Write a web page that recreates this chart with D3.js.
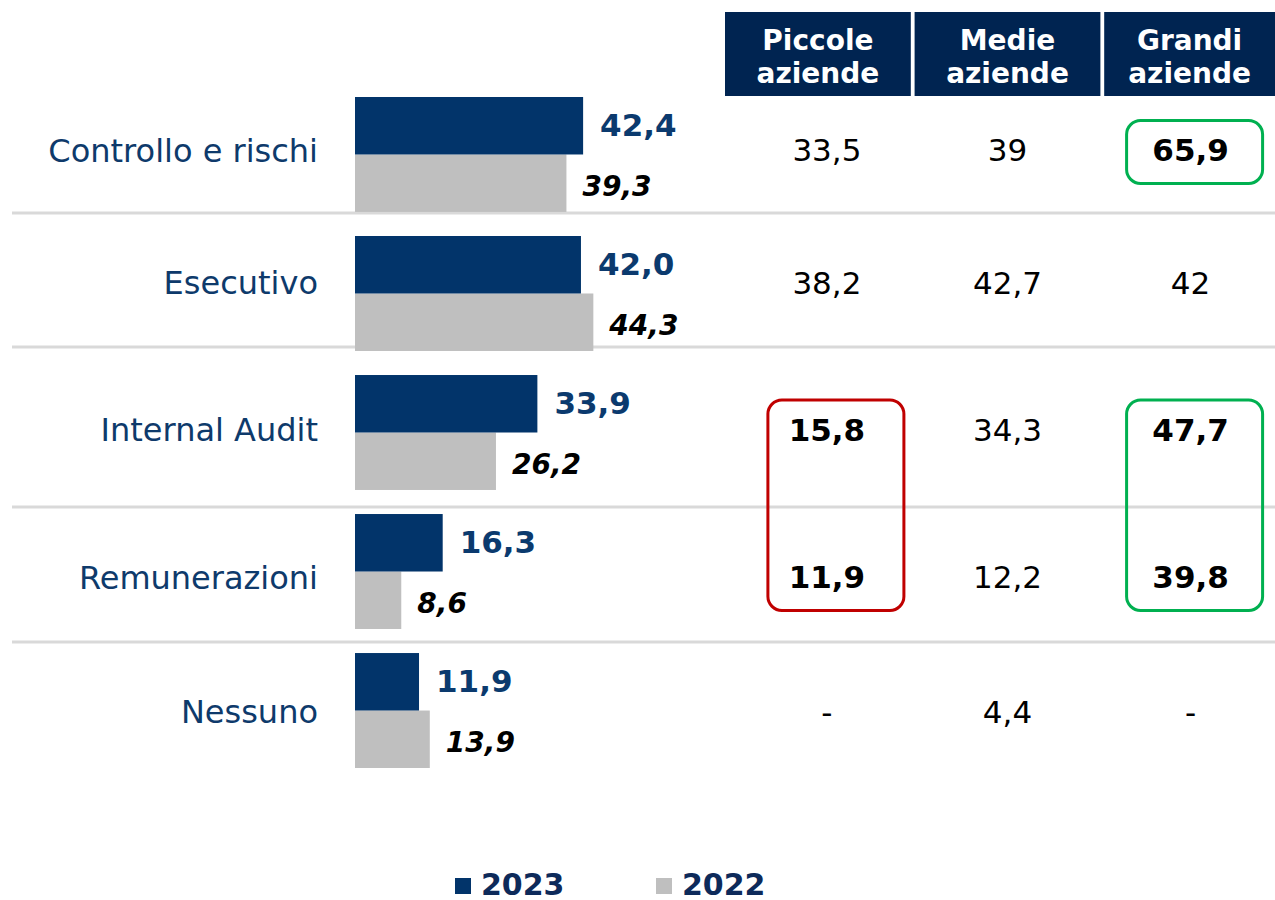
<!DOCTYPE html>
<html>
<head>
<meta charset="utf-8">
<title>Comitati</title>
<script src="https://d3js.org/d3.v7.min.js"></script>
<style>
  body { margin: 0; background: #fff; }
  svg text { font-family: "DejaVu Sans", Verdana, sans-serif; }
</style>
</head>
<body>
<div id="chart"></div>
<script>
// data
const categories = ["Controllo e rischi", "Esecutivo", "Internal Audit", "Remunerazioni", "Nessuno"];
const series = ["2023", "2022"];
const values2023 = [42.4, 42.0, 33.9, 16.3, 11.9];
const values2022 = [39.3, 44.3, 26.2, 8.6, 13.9];
const columns = ["Piccole aziende", "Medie aziende", "Grandi aziende"];
const piccole = ["33,5", "38,2", "15,8", "11,9", "-"];
const medie = ["39", "42,7", "34,3", "12,2", "4,4"];
const grandi = ["65,9", "42", "47,7", "39,8", "-"];
// highlighted cells: column index, first row, last row
const highlights = [
  {col: 2, from: 0, to: 0, kind: "good"},
  {col: 0, from: 2, to: 3, kind: "bad"},
  {col: 2, from: 2, to: 3, kind: "good"}
];

const width = 1275, height = 900;
const navy = "#02346a", headNavy = "#002451", gray = "#bfbfbf", labelNavy = "#0e3a6b";
const fmt = v => d3.format(".1f")(v).replace(".", ",");

const svg = d3.select("#chart").append("svg")
  .attr("width", width).attr("height", height);

// bar scales
const x = d3.scaleLinear().domain([0, 50]).range([355, 355 + 50 * 5.38]);
const y = d3.scaleBand().domain(categories).range([97, 768]).paddingInner(0.173).paddingOuter(0);
const ySub = d3.scaleBand().domain(series).range([0, y.bandwidth()]);

// table rows (boundaries follow the grey separators)
const rowEdges = [96, 213, 347, 507, 642, 782];
const rowShift = [-4, 3, 3, 3, 0];
const rowMid = i => (rowEdges[i] + rowEdges[i + 1]) / 2 + rowShift[i];
const colX = d3.scaleBand().domain(columns).range([725, 1290]).paddingInner(0.02);
const colShift = [9, 0, 1];

// separators
svg.append("g").selectAll("line")
  .data(rowEdges.slice(1, 5))
  .join("line")
  .attr("x1", 12).attr("x2", width)
  .attr("y1", d => d).attr("y2", d => d)
  .attr("stroke", "#d9d9d9").attr("stroke-width", 3);

// category labels
svg.append("g").selectAll("text")
  .data(categories)
  .join("text")
  .attr("x", 318).attr("y", (d, i) => rowMid(i))
  .attr("dy", "0.35em").attr("text-anchor", "end")
  .attr("fill", labelNavy).attr("font-size", 32)
  .text(d => d);

// bars
const rows = categories.map((c, i) => ({cat: c, v23: values2023[i], v22: values2022[i]}));
const g = svg.append("g");
g.selectAll("rect.b22").data(rows).join("rect")
  .attr("class", "b22")
  .attr("x", x(0)).attr("y", d => y(d.cat) + ySub("2022"))
  .attr("width", d => x(d.v22) - x(0)).attr("height", ySub.bandwidth())
  .attr("fill", gray);
g.selectAll("rect.b23").data(rows).join("rect")
  .attr("class", "b23")
  .attr("x", x(0)).attr("y", d => y(d.cat) + ySub("2023"))
  .attr("width", d => x(d.v23) - x(0)).attr("height", ySub.bandwidth())
  .attr("fill", navy);

g.selectAll("text.l23").data(rows).join("text")
  .attr("class", "l23")
  .attr("x", d => x(d.v23) + 17).attr("y", d => y(d.cat) + ySub("2023") + ySub.bandwidth() / 2 - 1)
  .attr("dy", "0.35em").attr("font-size", 31).attr("font-weight", "bold")
  .attr("fill", "#0b3a6e").text(d => fmt(d.v23));
g.selectAll("text.l22").data(rows).join("text")
  .attr("class", "l22")
  .attr("x", d => x(d.v22) + 16).attr("y", d => y(d.cat) + ySub("2022") + ySub.bandwidth() / 2 + 3)
  .attr("dy", "0.35em").attr("font-size", 28).attr("font-weight", "bold")
  .attr("font-style", "italic").attr("fill", "#000").text(d => fmt(d.v22));

// header boxes
const headCenter = d => colX(d) + Math.min(colX.bandwidth(), width - colX(d)) / 2;
const head = svg.append("g").selectAll("g").data(columns).join("g");
head.append("rect")
  .attr("x", d => colX(d)).attr("y", 12)
  .attr("width", colX.bandwidth()).attr("height", 84)
  .attr("fill", headNavy);
head.append("text")
  .attr("x", headCenter)
  .attr("y", 40).attr("dy", "0.35em").attr("text-anchor", "middle")
  .attr("fill", "#fff").attr("font-size", 28).attr("font-weight", "bold")
  .text(d => d.split(" ")[0]);
head.append("text")
  .attr("x", headCenter)
  .attr("y", 73).attr("dy", "0.35em").attr("text-anchor", "middle")
  .attr("fill", "#fff").attr("font-size", 28).attr("font-weight", "bold")
  .text(d => d.split(" ")[1]);

const colCenter = j => headCenter(columns[j]) + colShift[j];
const isBold = (j, i) => highlights.some(h => h.col === j && i >= h.from && i <= h.to);

// table values
[piccole, medie, grandi].forEach((arr, j) => {
  svg.append("g").selectAll("text").data(arr).join("text")
    .attr("x", colCenter(j)).attr("y", (d, i) => rowMid(i))
    .attr("dy", "0.35em").attr("text-anchor", "middle")
    .attr("font-size", 31).attr("fill", "#000")
    .attr("font-weight", (d, i) => isBold(j, i) ? "bold" : "normal")
    .text(d => d);
});

// highlight boxes
svg.append("g").selectAll("rect").data(highlights).join("rect")
  .attr("x", d => colCenter(d.col) - (d.kind === "good" ? 64 : 59)).attr("width", 136)
  .attr("y", d => rowMid(d.from) - 30)
  .attr("height", d => rowMid(d.to) - rowMid(d.from) + 63)
  .attr("rx", 14)
  .attr("fill", "none").attr("stroke-width", 3)
  .attr("stroke", d => d.kind === "good" ? "#00b050" : "#c00000");

// legend
const legend = svg.append("g").attr("transform", "translate(455,884)");
const lg = legend.selectAll("g").data(series).join("g")
  .attr("transform", (d, i) => `translate(${i * 201},0)`);
lg.append("rect").attr("x", 0).attr("y", -6).attr("width", 16).attr("height", 16)
  .attr("fill", (d, i) => i === 0 ? navy : gray);
lg.append("text").attr("x", 26).attr("y", 0).attr("dy", "0.35em")
  .attr("font-size", 30).attr("font-weight", "bold").attr("fill", "#0d2a5a")
  .text(d => d);
</script>
</body>
</html>
